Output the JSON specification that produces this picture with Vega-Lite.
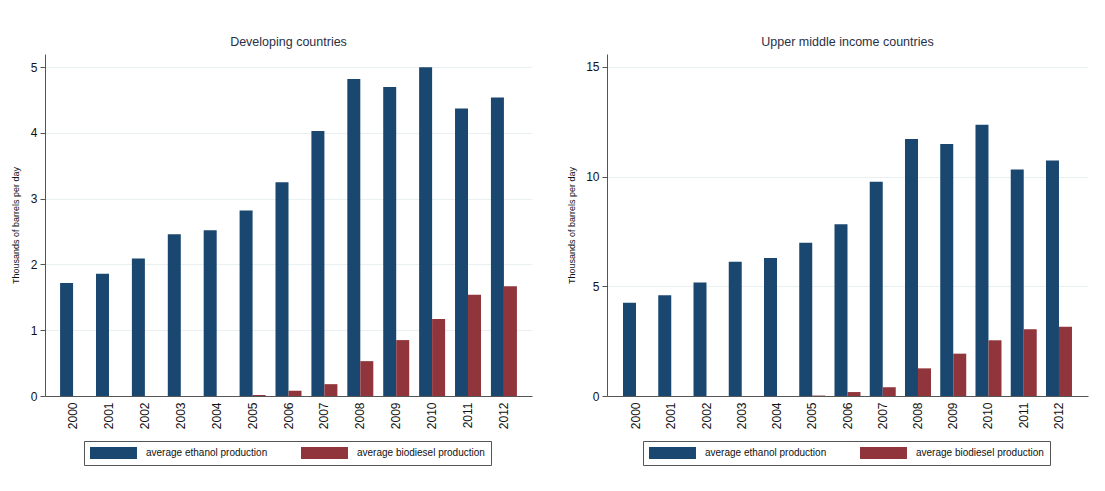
{
  "$schema": "https://vega.github.io/schema/vega-lite/v6.json",
  "background": "white",
  "padding": {"left": 11, "top": 35, "right": 5, "bottom": 5},
  "config": {
    "font": "Liberation Sans",
    "view": {"stroke": null},
    "axis": {"domainColor": "#555", "tickColor": "#555", "labelColor": "#111", "titleColor": "#111", "labelFont": "Liberation Sans", "titleFont": "Liberation Sans"},
    "title": {"fontSize": 12.5, "fontWeight": "normal", "color": "#2a2f45", "anchor": "middle", "frame": "group", "offset": 6}
  },
  "datasets": {
    "bio": [
      {"panel": "dev", "year": "2000", "type": "average ethanol production", "value": 1.72},
      {"panel": "dev", "year": "2001", "type": "average ethanol production", "value": 1.86},
      {"panel": "dev", "year": "2002", "type": "average ethanol production", "value": 2.09},
      {"panel": "dev", "year": "2003", "type": "average ethanol production", "value": 2.46},
      {"panel": "dev", "year": "2004", "type": "average ethanol production", "value": 2.52},
      {"panel": "dev", "year": "2005", "type": "average ethanol production", "value": 2.82},
      {"panel": "dev", "year": "2006", "type": "average ethanol production", "value": 3.25},
      {"panel": "dev", "year": "2007", "type": "average ethanol production", "value": 4.03},
      {"panel": "dev", "year": "2008", "type": "average ethanol production", "value": 4.82},
      {"panel": "dev", "year": "2009", "type": "average ethanol production", "value": 4.70},
      {"panel": "dev", "year": "2010", "type": "average ethanol production", "value": 5.0},
      {"panel": "dev", "year": "2011", "type": "average ethanol production", "value": 4.37},
      {"panel": "dev", "year": "2012", "type": "average ethanol production", "value": 4.54},
      {"panel": "dev", "year": "2000", "type": "average biodiesel production", "value": 0},
      {"panel": "dev", "year": "2001", "type": "average biodiesel production", "value": 0},
      {"panel": "dev", "year": "2002", "type": "average biodiesel production", "value": 0},
      {"panel": "dev", "year": "2003", "type": "average biodiesel production", "value": 0},
      {"panel": "dev", "year": "2004", "type": "average biodiesel production", "value": 0},
      {"panel": "dev", "year": "2005", "type": "average biodiesel production", "value": 0.015},
      {"panel": "dev", "year": "2006", "type": "average biodiesel production", "value": 0.08},
      {"panel": "dev", "year": "2007", "type": "average biodiesel production", "value": 0.18},
      {"panel": "dev", "year": "2008", "type": "average biodiesel production", "value": 0.53},
      {"panel": "dev", "year": "2009", "type": "average biodiesel production", "value": 0.85},
      {"panel": "dev", "year": "2010", "type": "average biodiesel production", "value": 1.17},
      {"panel": "dev", "year": "2011", "type": "average biodiesel production", "value": 1.54},
      {"panel": "dev", "year": "2012", "type": "average biodiesel production", "value": 1.67},
      {"panel": "umi", "year": "2000", "type": "average ethanol production", "value": 4.25},
      {"panel": "umi", "year": "2001", "type": "average ethanol production", "value": 4.59},
      {"panel": "umi", "year": "2002", "type": "average ethanol production", "value": 5.17},
      {"panel": "umi", "year": "2003", "type": "average ethanol production", "value": 6.12},
      {"panel": "umi", "year": "2004", "type": "average ethanol production", "value": 6.29},
      {"panel": "umi", "year": "2005", "type": "average ethanol production", "value": 6.99},
      {"panel": "umi", "year": "2006", "type": "average ethanol production", "value": 7.83},
      {"panel": "umi", "year": "2007", "type": "average ethanol production", "value": 9.77},
      {"panel": "umi", "year": "2008", "type": "average ethanol production", "value": 11.72},
      {"panel": "umi", "year": "2009", "type": "average ethanol production", "value": 11.49},
      {"panel": "umi", "year": "2010", "type": "average ethanol production", "value": 12.36},
      {"panel": "umi", "year": "2011", "type": "average ethanol production", "value": 10.32},
      {"panel": "umi", "year": "2012", "type": "average ethanol production", "value": 10.73},
      {"panel": "umi", "year": "2000", "type": "average biodiesel production", "value": 0},
      {"panel": "umi", "year": "2001", "type": "average biodiesel production", "value": 0},
      {"panel": "umi", "year": "2002", "type": "average biodiesel production", "value": 0},
      {"panel": "umi", "year": "2003", "type": "average biodiesel production", "value": 0},
      {"panel": "umi", "year": "2004", "type": "average biodiesel production", "value": 0},
      {"panel": "umi", "year": "2005", "type": "average biodiesel production", "value": 0.02},
      {"panel": "umi", "year": "2006", "type": "average biodiesel production", "value": 0.18},
      {"panel": "umi", "year": "2007", "type": "average biodiesel production", "value": 0.4},
      {"panel": "umi", "year": "2008", "type": "average biodiesel production", "value": 1.26},
      {"panel": "umi", "year": "2009", "type": "average biodiesel production", "value": 1.93},
      {"panel": "umi", "year": "2010", "type": "average biodiesel production", "value": 2.54},
      {"panel": "umi", "year": "2011", "type": "average biodiesel production", "value": 3.04},
      {"panel": "umi", "year": "2012", "type": "average biodiesel production", "value": 3.16}
    ]
  },
  "resolve": {"scale": {"color": "independent"}, "legend": {"color": "independent"}},
  "spacing": 35,
  "hconcat": [
    {
      "title": "Developing countries",
      "width": 487,
      "height": 342,
      "data": {"name": "bio"},
      "transform": [{"filter": "datum.panel === 'dev'"}],
      "mark": {"type": "bar"},
      "encoding": {
        "x": {"field": "year", "type": "nominal", "title": null,
              "scale": {"paddingInner": 0.276, "paddingOuter": 0.42},
              "axis": {"labelAngle": 270, "labelFontSize": 12, "ticks": false, "labelPadding": 6, "domainColor": "#555"}},
        "xOffset": {"field": "type", "sort": ["average ethanol production", "average biodiesel production"]},
        "y": {"field": "value", "type": "quantitative", "title": "Thousands of barrels per day",
              "scale": {"domain": [0, 5.2], "nice": false, "zero": true},
              "axis": {"values": [0, 1, 2, 3, 4, 5], "labelFontSize": 12, "titleFontSize": 9, "titleFontWeight": "normal", "tickSize": 5, "labelPadding": 3, "titlePadding": 10, "gridColor": "#e8f0f2", "grid": true}},
        "color": {"field": "type", "type": "nominal",
                  "scale": {"domain": ["average ethanol production", "average biodiesel production"], "range": ["#1a476f", "#90353b"]},
                  "legend": {"title": null, "orient": "none", "legendX": 39, "legendY": 387, "direction": "horizontal", "columns": 2,
                             "symbolType": "M-1,-1H6.83V1H-1Z", "symbolSize": 144, "symbolStrokeWidth": 0,
                             "labelFontSize": 10, "labelColor": "#111", "labelOffset": 44, "columnPadding": 33,
                             "strokeColor": "#555", "padding": 6}}
      }
    },
    {
      "title": "Upper middle income countries",
      "width": 481,
      "height": 342,
      "data": {"name": "bio"},
      "transform": [{"filter": "datum.panel === 'umi'"}],
      "mark": {"type": "bar"},
      "encoding": {
        "x": {"field": "year", "type": "nominal", "title": null,
              "scale": {"paddingInner": 0.262, "paddingOuter": 0.454},
              "axis": {"labelAngle": 270, "labelFontSize": 12, "ticks": false, "labelPadding": 6, "domainColor": "#555"}},
        "xOffset": {"field": "type", "sort": ["average ethanol production", "average biodiesel production"]},
        "y": {"field": "value", "type": "quantitative", "title": "Thousands of barrels per day",
              "scale": {"domain": [0, 15.59], "nice": false, "zero": true},
              "axis": {"values": [0, 5, 10, 15], "labelFontSize": 12, "titleFontSize": 9, "titleFontWeight": "normal", "tickSize": 5, "labelPadding": 3, "titlePadding": 9, "gridColor": "#e8f0f2", "grid": true}},
        "color": {"field": "type", "type": "nominal",
                  "scale": {"domain": ["average ethanol production", "average biodiesel production"], "range": ["#1a476f", "#90353b"]},
                  "legend": {"title": null, "orient": "none", "legendX": 36, "legendY": 387, "direction": "horizontal", "columns": 2,
                             "symbolType": "M-1,-1H6.83V1H-1Z", "symbolSize": 144, "symbolStrokeWidth": 0,
                             "labelFontSize": 10, "labelColor": "#111", "labelOffset": 44, "columnPadding": 33,
                             "strokeColor": "#555", "padding": 6}}
      }
    }
  ]
}
